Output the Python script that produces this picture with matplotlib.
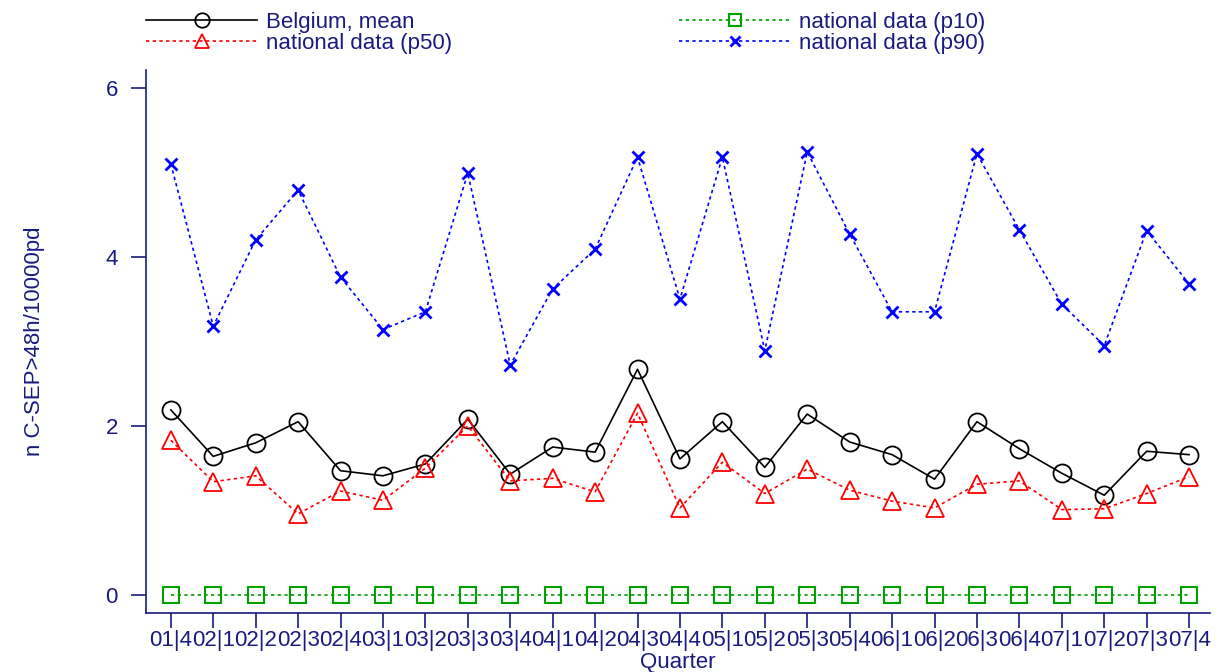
import matplotlib
matplotlib.use("Agg")
import matplotlib.pyplot as plt
import numpy as np

plt.rcParams['font.family'] = ['Liberation Sans', 'DejaVu Sans']

quarters = ["01|4",
            "02|1", "02|2", "02|3", "02|4",
            "03|1", "03|2", "03|3", "03|4",
            "04|1", "04|2", "04|3", "04|4",
            "05|1", "05|2", "05|3", "05|4",
            "06|1", "06|2", "06|3", "06|4",
            "07|1", "07|2", "07|3", "07|4"]

belgium_mean = [2.19, 1.64, 1.80, 2.05, 1.47, 1.41, 1.55, 2.08, 1.43, 1.75, 1.69, 2.67, 1.61,
                2.05, 1.51, 2.14, 1.81, 1.66, 1.37, 2.05, 1.73, 1.44, 1.18, 1.70, 1.66]
p10 = [0.0] * 25
p50 = [1.83, 1.34, 1.41, 0.96, 1.23, 1.12, 1.50, 2.00, 1.35, 1.38, 1.22, 2.15, 1.03,
       1.57, 1.20, 1.49, 1.24, 1.11, 1.03, 1.31, 1.35, 1.01, 1.02, 1.20, 1.40]
p90 = [5.10, 3.18, 4.20, 4.79, 3.76, 3.14, 3.35, 4.99, 2.72, 3.62, 4.09, 5.18, 3.50,
       5.18, 2.89, 5.24, 4.27, 3.35, 3.35, 5.22, 4.32, 3.44, 2.95, 4.31, 3.68]

navy = '#1a1a80'
fig = plt.figure(figsize=(12.25, 6.72), dpi=100)
ax = fig.add_axes([0.119, 0.0878, 0.869, 0.8080])

x = np.arange(len(quarters))
h1, = ax.plot(x, belgium_mean, color='black', lw=1.2, marker='o', ms=13,
              mfc='none', mec='black', mew=1.3, label='Belgium, mean')
h3, = ax.plot(x, p10, color='#00a000', lw=1.2, ls=(0, (2, 2)), marker='s', ms=11.5,
              mfc='none', mec='#00a000', mew=1.5, label='national data (p10)')
h2, = ax.plot(x, p50, color='red', lw=1.2, ls=(0, (2, 2)), marker='^', ms=13,
              mfc='none', mec='red', mew=1.3, label='national data (p50)')
h4, = ax.plot(x, p90, color='blue', lw=1.2, ls=(0, (2, 2)), marker='x', ms=9,
              mec='blue', mew=2, label='national data (p90)')

ax.set_xlim(-0.59, 24.5)
ax.set_ylim(-0.213, 6.21)
ax.set_xticks(x)
ax.set_xticklabels(quarters)
ax.set_yticks([0, 2, 4, 6])
ax.tick_params(axis='both', direction='out', length=11, width=1.2, color=navy,
               labelcolor=navy, labelsize=16)
ax.tick_params(axis='x', pad=1)
ax.tick_params(axis='y', pad=9)
for s in ['top', 'right']:
    ax.spines[s].set_visible(False)
for s in ['left', 'bottom']:
    ax.spines[s].set_color(navy)
    ax.spines[s].set_linewidth(1.2)
ax.set_xlabel('Quarter', color=navy, fontsize=16, labelpad=1)
ax.set_ylabel('n C-SEP>48h/10000pd', color=navy, fontsize=16, labelpad=44)

leg = fig.legend([h1, h2, h3, h4],
                 ['Belgium, mean', 'national data (p50)', 'national data (p10)', 'national data (p90)'],
                 ncol=2, loc='upper left', bbox_to_anchor=(0.103, 1.012), frameon=False,
                 fontsize=16, handlelength=5.0, columnspacing=10.2, labelspacing=0.0,
                 handletextpad=0.4, markerscale=0.8)
for t in leg.get_texts():
    t.set_color(navy)

fig.savefig('out.png', dpi=100)
